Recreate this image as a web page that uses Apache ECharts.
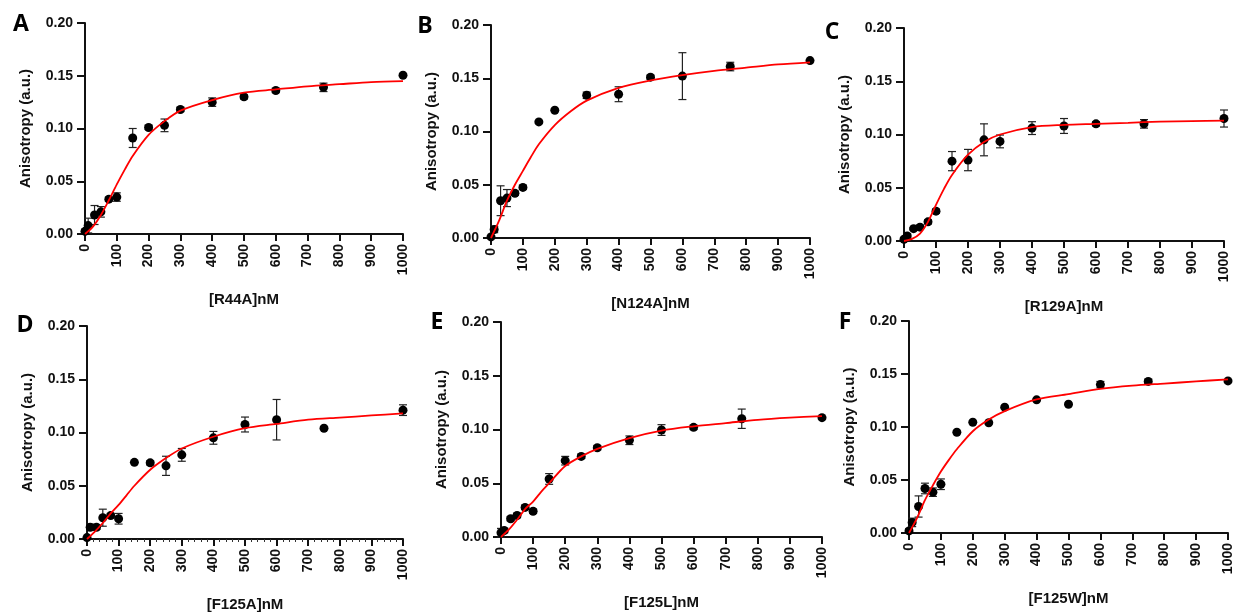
<!DOCTYPE html>
<html>
<head>
<meta charset="utf-8">
<script src="https://cdn.jsdelivr.net/npm/echarts@6/dist/echarts.min.js"></script>
<style>
html,body{margin:0;padding:0;background:#fff;}
#chart{width:1235px;height:614px;}
</style>
</head>
<body>
<div id="chart"></div>
<script>
// ---- Data ----
const conc = [0, 10, 30, 50, 75, 100, 150, 200, 250, 300, 400, 500, 600, 750, 1000];
const xTicks = [0, 100, 200, 300, 400, 500, 600, 700, 800, 900, 1000];
const yTicks = [0, 0.05, 0.10, 0.15, 0.20];

const panelLetters = ['A', 'B', 'C', 'D', 'E', 'F'];
const xTitles = ['[R44A]nM', '[N124A]nM', '[R129A]nM', '[F125A]nM', '[F125L]nM', '[F125W]nM'];
const yTitle = 'Anisotropy (a.u.)';

const meanA = [0.0025, 0.008, 0.018, 0.021, 0.033, 0.035, 0.091, 0.101, 0.103, 0.118, 0.125, 0.130, 0.136, 0.139, 0.1505];
const errA  = [0.002, 0.007, 0.009, 0.005, 0.002, 0.004, 0.009, 0.002, 0.006, 0.002, 0.004, 0.002, 0.002, 0.004, 0];
const meanB = [0.001, 0.008, 0.035, 0.0375, 0.042, 0.0475, 0.109, 0.120, null, 0.134, 0.135, 0.151, 0.152, 0.161, 0.1666];
const errB  = [0.001, 0.003, 0.014, 0.008, 0.002, 0.002, 0, 0, 0, 0.003, 0.007, 0.002, 0.022, 0.004, 0];
const meanC = [0.0016, 0.0047, 0.0116, 0.013, 0.018, 0.028, 0.075, 0.076, 0.095, 0.0935, 0.106, 0.108, 0.110, 0.110, 0.115];
const errC  = [0, 0.002, 0.001, 0.002, 0.002, 0.002, 0.009, 0.010, 0.015, 0.006, 0.006, 0.007, 0.002, 0.004, 0.008];
const meanD = [0.0013, 0.011, 0.011, 0.020, 0.022, 0.019, 0.072, 0.0715, 0.0687, 0.079, 0.095, 0.1075, 0.112, 0.104, 0.121];
const errD  = [0.001, 0.003, 0.002, 0.008, 0.002, 0.005, 0, 0.002, 0.009, 0.006, 0.006, 0.007, 0.019, 0, 0.005];
const meanE = [0.004, 0.006, 0.017, 0.020, 0.0275, 0.024, 0.054, 0.071, 0.075, 0.083, 0.090, 0.0995, 0.102, 0.110, 0.111];
const errE  = [0.004, 0.002, 0.002, 0.002, 0.002, 0.002, 0.005, 0.004, 0.002, 0.002, 0.004, 0.005, 0.002, 0.009, 0];
const meanF = [0.002, 0.010, 0.025, 0.042, 0.0385, 0.046, 0.095, 0.1045, 0.104, 0.1187, 0.1256, 0.1215, 0.140, 0.143, 0.1435];
const errF  = [0.002, 0.004, 0.010, 0.005, 0.004, 0.005, 0, 0, 0, 0, 0, 0, 0.003, 0.002, 0];

// fitted curves
const fitX = [0, 25, 50, 75, 100, 125, 150, 200, 250, 300, 400, 500, 600, 700, 800, 900, 1000];
const fitA = [0, 0.007, 0.018, 0.032, 0.047, 0.061, 0.074, 0.094, 0.107, 0.117, 0.127, 0.134, 0.137, 0.140, 0.142, 0.144, 0.145];
const fitB = [0, 0.016, 0.035, 0.050, 0.063, 0.076, 0.088, 0.106, 0.119, 0.129, 0.141, 0.148, 0.153, 0.157, 0.160, 0.163, 0.165];
const fitC = [0, 0.002, 0.007, 0.018, 0.034, 0.049, 0.062, 0.081, 0.093, 0.100, 0.107, 0.109, 0.110, 0.111, 0.112, 0.1125, 0.113];
const fitD = [0, 0.007, 0.015, 0.024, 0.032, 0.041, 0.050, 0.065, 0.076, 0.085, 0.096, 0.104, 0.108, 0.112, 0.114, 0.116, 0.118];
const fitE = [0, 0.007, 0.016, 0.026, 0.033, 0.042, 0.050, 0.066, 0.075, 0.082, 0.092, 0.099, 0.103, 0.106, 0.109, 0.111, 0.1125];
const fitF = [0, 0.014, 0.031, 0.045, 0.058, 0.069, 0.079, 0.096, 0.107, 0.115, 0.126, 0.131, 0.136, 0.139, 0.141, 0.143, 0.145];

const means = [meanA, meanB, meanC, meanD, meanE, meanF];
const errs = [errA, errB, errC, errD, errE, errF];
const fits = [fitA, fitB, fitC, fitD, fitE, fitF];

// ---- Layout ----
const grids = [
  {left: 85, top: 23, width: 318, height: 211},
  {left: 491, top: 25, width: 319, height: 213},
  {left: 904, top: 28, width: 320, height: 213},
  {left: 87, top: 326, width: 316, height: 213},
  {left: 501, top: 322, width: 321, height: 215},
  {left: 909, top: 321, width: 320, height: 212}
];
const letterPos = [[21, 24], [425, 26], [832, 32], [25, 325], [437, 322], [845, 322]];

const FONT = '"Liberation Sans", Arial, sans-serif';
const chart = echarts.init(document.getElementById('chart'));

const option = {
  animation: false,
  backgroundColor: '#ffffff',
  grid: grids.map(g => Object.assign({containLabel: false}, g)),
  xAxis: grids.map((g, i) => ({
    gridIndex: i, type: 'value', min: 0, max: 1000, interval: 100,
    name: xTitles[i], nameLocation: 'middle', nameGap: 58,
    nameTextStyle: {fontFamily: FONT, fontWeight: 'bold', fontSize: 15, color: '#111'},
    axisLine: {show: true, onZero: false, lineStyle: {color: '#111', width: 2}},
    axisTick: {show: true, inside: false, length: 7, lineStyle: {color: '#111', width: 2}},
    minorTick: {show: i === 3, splitNumber: 5, length: 3, lineStyle: {color: '#333', width: 1}},
    axisLabel: {rotate: 90, margin: 10, fontFamily: FONT, fontWeight: 'bold', fontSize: 14, color: '#111',
      formatter: v => xTicks.indexOf(v) >= 0 ? String(v) : ''},
    splitLine: {show: false}
  })),
  yAxis: grids.map((g, i) => ({
    gridIndex: i, type: 'value', min: 0, max: 0.2, interval: 0.05,
    name: yTitle, nameLocation: 'middle', nameGap: 52, nameRotate: 90,
    nameTextStyle: {fontFamily: FONT, fontWeight: 'bold', fontSize: 15, color: '#111'},
    axisLine: {show: true, onZero: false, lineStyle: {color: '#111', width: 2}},
    axisTick: {show: true, inside: false, length: 8, lineStyle: {color: '#111', width: 2}},
    axisLabel: {margin: 12, fontFamily: FONT, fontWeight: 'bold', fontSize: 14, color: '#111',
      formatter: v => v.toFixed(2)},
    splitLine: {show: false}
  })),
  graphic: panelLetters.map((L, i) => ({
    type: 'text', x: letterPos[i][0], y: letterPos[i][1],
    style: {text: L, font: 'bold 23px "Open Sans", sans-serif', fill: '#000',
      textAlign: 'center', textVerticalAlign: 'middle'}
  })),
  series: []
};

means.forEach((m, i) => {
  const ebData = [];
  const ptData = [];
  conc.forEach((x, k) => {
    if (m[k] === null) return;
    ptData.push([x, m[k]]);
    if (errs[i][k] > 0) ebData.push([x, m[k], errs[i][k]]);
  });
  option.series.push({
    type: 'custom', xAxisIndex: i, yAxisIndex: i, z: 2, silent: true,
    data: ebData,
    encode: {x: 0, y: 1},
    renderItem: (params, api) => {
      const x = api.value(0), y = api.value(1), e = api.value(2);
      const top = api.coord([x, y + e]);
      const bot = api.coord([x, y - e]);
      const hw = 4;
      const st = {stroke: '#222', lineWidth: 1.2};
      return {type: 'group', children: [
        {type: 'line', shape: {x1: top[0], y1: top[1], x2: bot[0], y2: bot[1]}, style: st},
        {type: 'line', shape: {x1: top[0] - hw, y1: top[1], x2: top[0] + hw, y2: top[1]}, style: st},
        {type: 'line', shape: {x1: bot[0] - hw, y1: bot[1], x2: bot[0] + hw, y2: bot[1]}, style: st}
      ]};
    }
  });
  option.series.push({
    type: 'scatter', xAxisIndex: i, yAxisIndex: i, z: 3,
    symbol: 'circle', symbolSize: 9, itemStyle: {color: '#000', opacity: 1},
    data: ptData
  });
  option.series.push({
    type: 'line', xAxisIndex: i, yAxisIndex: i, z: 4,
    smooth: 0.3, showSymbol: false, symbol: 'none',
    lineStyle: {color: '#ff0000', width: 1.8},
    data: fitX.map((x, k) => [x, fits[i][k]])
  });
});

chart.setOption(option);
</script>
</body>
</html>
